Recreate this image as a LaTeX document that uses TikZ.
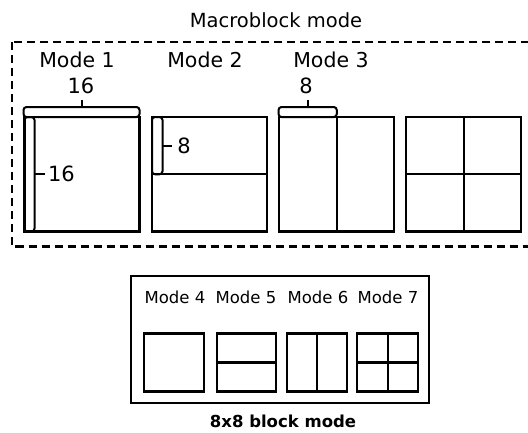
\documentclass[tikz,border=0pt]{standalone}
\usepackage{fontspec}
\setmainfont{DejaVu Sans}
\begin{document}
\begin{tikzpicture}[x=1pt,y=-1pt,
  blk/.style={draw,line width=2.2pt,rectangle,inner sep=0pt},
  bigblk/.style={blk,minimum width=115pt,minimum height=114.5pt},
  smallblk/.style={blk,minimum width=60pt,minimum height=58pt},
  brc/.style={draw,line width=2pt,rounded corners=3pt},
  tick/.style={line width=2pt},
  inner/.style={line width=2.2pt},
  lbl/.style={inner sep=0pt,font=\fontsize{20.5}{20.5}\selectfont},
  slbl/.style={inner sep=0pt,font=\fontsize{16.5}{16.5}\selectfont},
  num/.style={inner sep=0pt,font=\fontsize{21}{21}\selectfont},
  dashframe/.style={draw,line width=2.2pt,dash pattern=on 8pt off 5pt}
]
\useasboundingbox (0,0) rectangle (528,432);
\begin{scope}
\clip (0,0) rectangle (528,432);
% title
\node[inner sep=0pt,font=\fontsize{19.5}{19.5}\selectfont] (title) at (276,20) {Macroblock mode};
% dashed frame
\coordinate (dtl) at (12,42);
\coordinate (dbr) at (534,246.5);
\draw[dashframe] (dtl) rectangle (dbr);
% labels
\node[lbl] (m1) at (77,60) {Mode 1};
\node[lbl] (m2) at (205,60) {Mode 2};
\node[lbl] (m3) at (331,60) {Mode 3};
% big blocks
\node[bigblk] (b1) at (82,174.25) {};
\node[bigblk] (b2) at (209.5,174.25) {};
\node[bigblk] (b3) at (336.75,174.25) {};
\node[bigblk] (b4) at (463.75,174.25) {};
\draw[inner] (b2.west) -- (b2.east);
\draw[inner] (b3.north) -- (b3.south);
\draw[inner] (b4.west) -- (b4.east);
\draw[inner] (b4.north) -- (b4.south);
% brace 1 horizontal
\coordinate (h1a) at (23.5,117);
\coordinate (h1b) at (139.5,107);
\draw[brc] (h1a) rectangle (h1b);
\coordinate (t1a) at (81.5,107);
\coordinate (t1b) at (81.5,99.5);
\draw[tick] (t1a) -- (t1b);
\node[num] (n1) at (81,86) {16};
% brace 1 vertical
\coordinate (v1a) at (24.5,117);
\coordinate (v1b) at (34.5,231.5);
\draw[brc] (v1a) rectangle (v1b);
\coordinate (t2a) at (34.5,173.5);
\coordinate (t2b) at (45,173.5);
\draw[tick] (t2a) -- (t2b);
\node[num] (n2) at (61.5,173.5) {16};
% brace 2 vertical
\coordinate (v2a) at (152,117);
\coordinate (v2b) at (162.5,174.25);
\draw[brc] (v2a) rectangle (v2b);
\coordinate (t3a) at (162.5,146);
\coordinate (t3b) at (172,146);
\draw[tick] (t3a) -- (t3b);
\node[num] (n3) at (184,146) {8};
% brace 3 horizontal
\coordinate (h3a) at (278.5,117);
\coordinate (h3b) at (336.75,107);
\draw[brc] (h3a) rectangle (h3b);
\coordinate (t4a) at (307.5,107);
\coordinate (t4b) at (307.5,99.5);
\draw[tick] (t4a) -- (t4b);
\node[num] (n4) at (306,86) {8};
% bottom frame
\coordinate (ftl) at (131,275.7);
\coordinate (fbr) at (429,402.7);
\draw[line width=2.2pt] (ftl) rectangle (fbr);
\node[slbl] (m4) at (175,297) {Mode 4};
\node[slbl] (m5) at (246,297) {Mode 5};
\node[slbl] (m6) at (318,297) {Mode 6};
\node[slbl] (m7) at (388,297) {Mode 7};
\node[smallblk,minimum width=60pt] (s4) at (174,362.4) {};
\node[smallblk,minimum width=59pt] (s5) at (246.2,362.4) {};
\node[smallblk,minimum width=60pt] (s6) at (316.7,362.4) {};
\node[smallblk,minimum width=61pt] (s7) at (387.8,362.4) {};
\draw[inner] (s5.west) -- (s5.east);
\draw[inner] (s6.north) -- (s6.south);
\draw[inner] (s7.west) -- (s7.east);
\draw[inner] (s7.north) -- (s7.south);
\node[inner sep=0pt,font=\fontsize{16.5}{16.5}\selectfont\bfseries] (bt) at (283,421.5) {8x8 block mode};
\end{scope}
\end{tikzpicture}
\end{document}
